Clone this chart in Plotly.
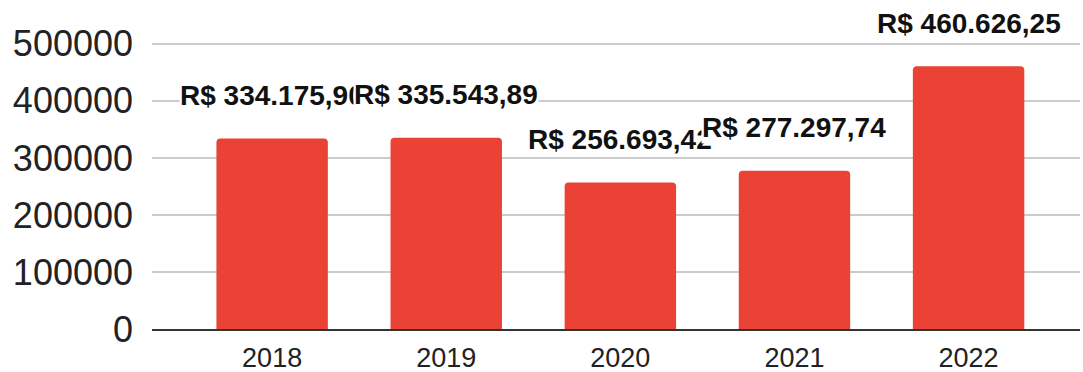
import plotly.graph_objects as go

# Annual totals (R$)
years = ["2018", "2019", "2020", "2021", "2022"]
totals = [334175.90, 335543.89, 256693.42, 277297.74, 460626.25]
y_ticks = [0, 100000, 200000, 300000, 400000, 500000]


def brl(v):
    s = f"{v:,.2f}"
    s = s.replace(",", "X").replace(".", ",").replace("X", ".")
    return "R$ " + s


fig = go.Figure(
    go.Bar(
        x=years,
        y=totals,
        marker=dict(color="#EA4335", line=dict(width=0)),
        width=0.64,
        hoverinfo="x+y",
    )
)

# value labels above each bar, drawn in order so later ones sit on top
for i, v in enumerate(totals):
    fig.add_annotation(
        x=i,
        y=v,
        xref="x",
        yref="y",
        yshift=43,
        text="<b>" + brl(v) + "</b>",
        showarrow=False,
        xanchor="center",
        yanchor="middle",
        bgcolor="white",
        borderpad=0,
        font=dict(family="Liberation Sans, Arial, sans-serif", size=28, color="#111111"),
    )

fig.update_layout(
    width=1083,
    height=372,
    margin=dict(l=152, r=3, t=41, b=43, autoexpand=False),
    paper_bgcolor="white",
    plot_bgcolor="white",
    showlegend=False,
    barcornerradius=4,
    font=dict(family="Liberation Sans, Arial, sans-serif", color="#222222"),
    xaxis=dict(
        type="category",
        range=[-0.69, 4.64],
        automargin=False,
        showgrid=False,
        showline=True,
        linecolor="#333333",
        linewidth=2,
        ticks="",
        tickfont=dict(size=27, color="#222222"),
        ticklabelstandoff=4,
    ),
    yaxis=dict(
        range=[0, 505000],
        automargin=False,
        tickvals=y_ticks,
        ticktext=[str(t) for t in y_ticks],
        showgrid=True,
        gridcolor="#CCCCCC",
        gridwidth=2,
        zeroline=False,
        showline=False,
        ticks="",
        tickfont=dict(size=36, color="#222222"),
        ticklabelstandoff=18,
    ),
)

fig.write_html("out.html")
